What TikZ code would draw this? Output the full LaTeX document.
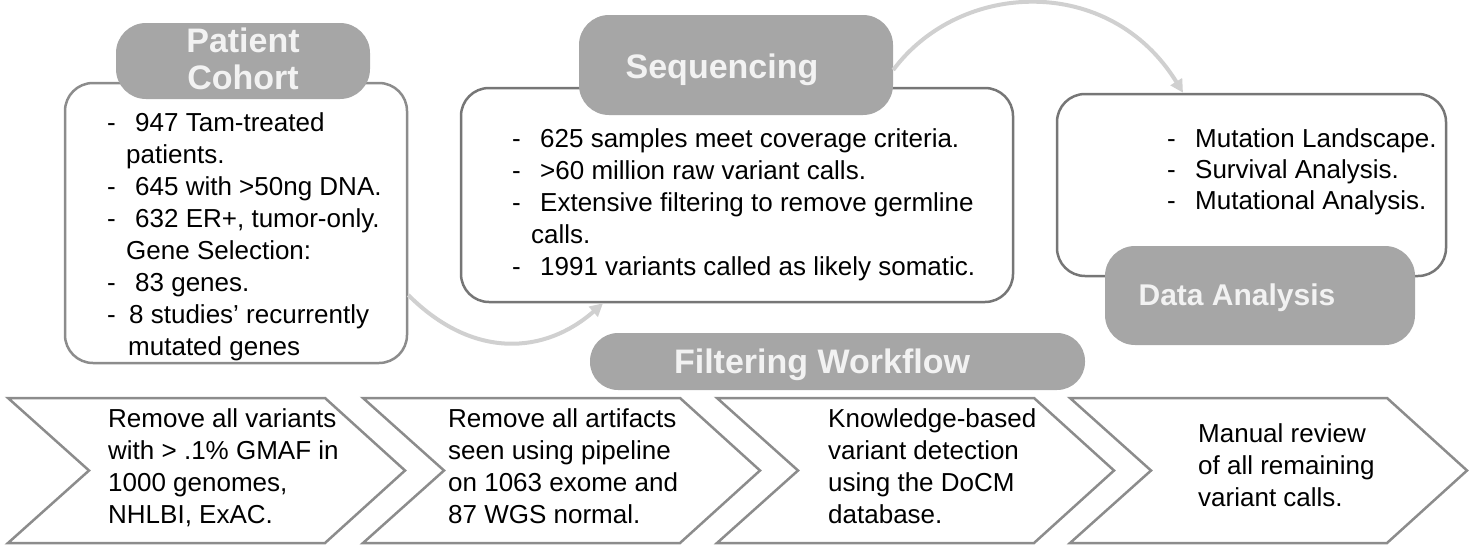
\documentclass[tikz,border=0pt]{standalone}
\usepackage{fontspec}
\setmainfont{Liberation Sans}
\usetikzlibrary{arrows.meta}
\definecolor{tgray}{HTML}{A6A6A6}
\definecolor{ttext}{HTML}{F2F2F2}
\definecolor{agray}{HTML}{D0D0D0}
\definecolor{bgray}{HTML}{8C8C8C}
\definecolor{dgray}{HTML}{767676}
\newcommand{\dsh}[1][28pt]{\makebox[#1][l]{-}}
\begin{document}
\begin{tikzpicture}[x=1pt,y=-1pt,
  cbox/.style={draw=dgray, line width=2.5pt, rounded corners=28pt, fill=white, inner sep=0pt},
  tbox/.style={fill=tgray, rounded corners=30pt, inner sep=0pt},
  ttxt/.style={inner sep=0pt, text=ttext, font=\fontsize{34}{37}\selectfont\bfseries, align=center},
  body/.style={inner sep=0pt, anchor=north west, align=left, font=\fontsize{26}{32}\selectfont},
  chev/.style={draw=bgray, line width=2.5pt, line join=miter, fill=white},
  flow/.style={draw=agray, line width=4pt, -{Triangle[length=13pt,width=13pt]}}
]
\useasboundingbox (0,0) rectangle (1474,547);

% content boxes
\node[cbox, draw=bgray, minimum width=342pt, minimum height=280pt] (cohort) at (236,223) {};
\node[cbox, minimum width=552pt, minimum height=214pt] (seq) at (737,195) {};
\node[cbox, minimum width=389pt, minimum height=182pt] (data) at (1251.5,185) {};

% title boxes
\node[tbox, minimum width=254pt, minimum height=76pt] (cohortt) at (243,61) {};
\node[tbox, minimum width=314pt, minimum height=100pt] (seqt) at (736,65) {};
\node[tbox, minimum width=310pt, minimum height=99pt] (datat) at (1260,295.5) {};
\node[tbox, rounded corners=28pt, minimum width=495pt, minimum height=57pt] (filt) at (837.5,361.5) {};

% title texts
\node[ttxt, anchor=north] (cohortlbl) at (243,27.5) {Patient\\Cohort};
\node[ttxt, anchor=base] (seqlbl) at (722,78) {Sequencing};
\node[ttxt, anchor=base] (filtlbl) at (822,373) {Filtering Workflow};
\node[ttxt, anchor=base, font=\fontsize{30}{32}\selectfont\bfseries] (datalbl) at (1237,305) {Data Analysis};

% body texts
\node[body] (cohorttxt) at (107,112.3) {\dsh 947 Tam-treated\\\hspace*{19pt}patients.\\\dsh 645 with >50ng DNA.\\\dsh 632 ER+, tumor-only.\\\hspace*{19pt}Gene Selection:\\\dsh 83 genes.\\\dsh[22pt]8 studies’ recurrently\\\hspace*{21pt}mutated genes};
\node[body] (seqtxt) at (512,128.5) {\dsh 625 samples meet coverage criteria.\\\dsh >60 million raw variant calls.\\\dsh Extensive filtering to remove germline\\\hspace*{19pt}calls.\\\dsh 1991 variants called as likely somatic.};
\node[body, font=\fontsize{26}{31}\selectfont] (datatxt) at (1167,128.5) {\dsh Mutation Landscape.\\\dsh Survival Analysis.\\\dsh Mutational Analysis.};

% chevrons
\foreach \x in {8,363,717,1070}
  \draw[chev] (\x,398) -- ++(317,0) -- ++(80,72.5) -- ++(-80,72.5) -- ++(-317,0) -- ++(81,-72.5) -- cycle;

\node[body] (c1) at (108,408) {Remove all variants\\with > .1\% GMAF in\\1000 genomes,\\NHLBI, ExAC.};
\node[body] (c2) at (448,408) {Remove all artifacts\\seen using pipeline\\on 1063 exome and\\87 WGS normal.};
\node[body] (c3) at (828,408) {Knowledge-based\\variant detection\\using the DoCM\\database.};
\node[body] (c4) at (1198,423) {Manual review\\of all remaining\\variant calls.};

% connectors
\draw[flow] ([yshift=-72pt]cohort.east) .. controls +(65,65) and +(-58,51) .. ([xshift=-134pt]seq.south);
\draw[flow] ([yshift=-5pt]seqt.east) .. controls +(67,-90) and +(-73,-119) .. ([xshift=-68.5pt]data.north);
\end{tikzpicture}
\end{document}
